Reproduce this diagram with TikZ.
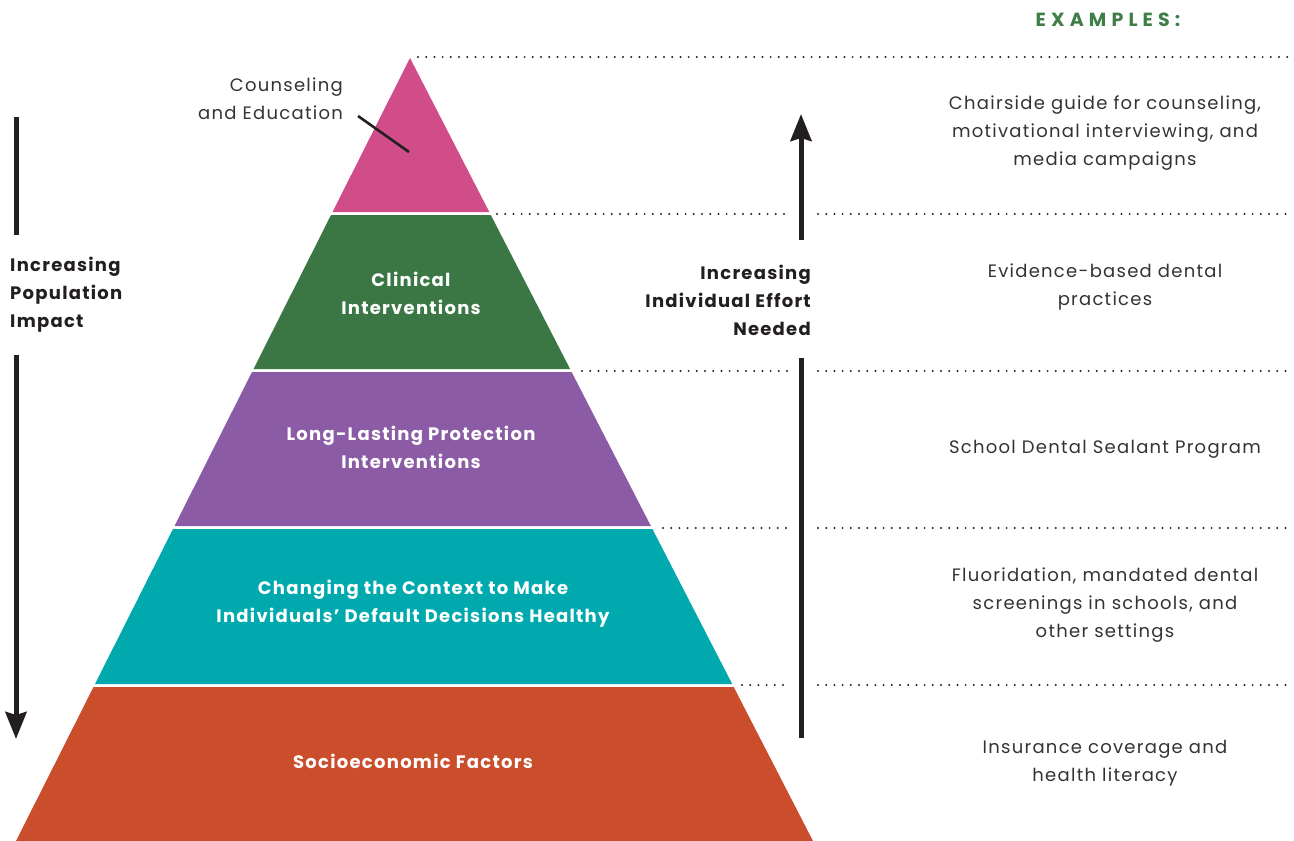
\documentclass[tikz,border=0pt]{standalone}
\usepackage{fontspec}
\setmainfont{Poppins}
\usetikzlibrary{arrows.meta}
\definecolor{cpink}{HTML}{D14D8A}
\definecolor{cgreen}{HTML}{3A7744}
\definecolor{cpurple}{HTML}{8C5BA5}
\definecolor{cteal}{HTML}{00A9AD}
\definecolor{corange}{HTML}{CA4E2C}
\definecolor{cdark}{HTML}{231F20}
\definecolor{cgray}{HTML}{333333}
\definecolor{cexgreen}{HTML}{3F7F47}
\newcommand{\txtfont}{\fontsize{18}{28}\selectfont\addfontfeatures{LetterSpace=7}}
\tikzset{
  bandtext/.style={text=white, align=center, font=\txtfont\bfseries, inner sep=0pt},
  extext/.style={text=cgray, align=center, font=\txtfont, inner sep=0pt},
  sidetext/.style={text=cdark, font=\txtfont\bfseries, inner sep=0pt},
  dotline/.style={cdark, line width=2.2pt, line cap=round, dash pattern=on 0pt off 8.2pt},
  bigarrow/.style={cdark, line width=5pt},
  bighead/.style={-{Stealth[inset=3pt,width=21pt,length=27pt]}}
}
\begin{document}
\begin{tikzpicture}[x=1pt,y=-1pt]
\useasboundingbox (0,0) rectangle (1294,841);
% pyramid bands
\fill[cpink]   (410,58) -- (489.3,212) -- (332.5,212) -- cycle;
\fill[cgreen]  (331.0,215) -- (490.8,215) -- (570.1,369) -- (253.5,369) -- cycle;
\fill[cpurple] (252.0,372) -- (571.6,372) -- (650.9,526) -- (174.5,526) -- cycle;
\fill[cteal]   (173.0,529) -- (652.4,529) -- (732.2,684) -- (95.0,684) -- cycle;
\fill[corange] (93.5,687) -- (733.7,687) -- (813,841) -- (16,841) -- cycle;
% dotted guide lines
\coordinate (d0a) at (418,57);  \coordinate (d0b) at (1290,57);
\coordinate (d1a) at (497,214); \coordinate (d1b) at (790,214);
\coordinate (d1c) at (818,214); \coordinate (d1d) at (1290,214);
\coordinate (d2a) at (582,371); \coordinate (d2b) at (790,371);
\coordinate (d2c) at (818,371); \coordinate (d2d) at (1290,371);
\coordinate (d3a) at (663,528); \coordinate (d3b) at (790,528);
\coordinate (d3c) at (818,528); \coordinate (d3d) at (1290,528);
\coordinate (d4a) at (742,685); \coordinate (d4b) at (790,685);
\coordinate (d4c) at (818,685); \coordinate (d4d) at (1290,685);
\draw[dotline] (d0a) -- (d0b);
\draw[dotline] (d1a) -- (d1b); \draw[dotline] (d1c) -- (d1d);
\draw[dotline] (d2a) -- (d2b); \draw[dotline] (d2c) -- (d2d);
\draw[dotline] (d3a) -- (d3b); \draw[dotline] (d3c) -- (d3d);
\draw[dotline] (d4a) -- (d4b); \draw[dotline] (d4c) -- (d4d);
% band labels
\node[bandtext] (clin) at (411,293) {Clinical\\Interventions};
\node[bandtext] (llp) at (411,447) {Long-Lasting Protection\\Interventions};
\node[bandtext] (ctx) at (413,604) {Changing the Context to Make\\Individuals’ Default Decisions Healthy};
\node[bandtext] (soc) at (413,761) {Socioeconomic Factors};
% counseling label
\node[extext, align=right, anchor=east] (couns) at (343,99) {Counseling\\and Education};
\coordinate (ptrs) at (358,116);
\coordinate (ptr) at (409,152);
\draw[cdark, line width=2.6pt] (ptrs) -- (ptr);
% left arrow
\node[sidetext, align=left, anchor=west] (pop) at (10,295) {Increasing\\Population\\Impact};
\coordinate (la1) at (16,117);
\coordinate (la2) at (16,235);
\coordinate (la3) at (16,355);
\coordinate (la4) at (16,739);
\draw[bigarrow] (la1) -- (la2);
\draw[bigarrow, bighead] (la3) -- (la4);
% right arrow
\node[sidetext, align=right, anchor=east] (ind) at (811,300) {Increasing\\Individual Effort\\Needed};
\coordinate (ra1) at (801,738);
\coordinate (ra2) at (801,358);
\coordinate (ra3) at (801,240);
\coordinate (ra4) at (801,114);
\draw[bigarrow] (ra1) -- (ra2);
\draw[bigarrow, bighead] (ra3) -- (ra4);
% examples
\node[text=cexgreen, font=\fontsize{19}{22}\selectfont\bfseries\addfontfeatures{LetterSpace=27}, inner sep=0pt] (exh) at (1108,20) {EXAMPLES:};
\node[extext] (ex1) at (1105,133) {Chairside guide for counseling,\\motivational interviewing, and\\media campaigns};
\node[extext] (ex2) at (1105,287) {Evidence-based dental\\practices};
\node[extext] (ex3) at (1105,449) {School Dental Sealant Program};
\node[extext] (ex4) at (1105,605) {Fluoridation, mandated dental\\screenings in schools, and\\other settings};
\node[extext] (ex5) at (1105,763) {Insurance coverage and\\health literacy};
\end{tikzpicture}
\end{document}
